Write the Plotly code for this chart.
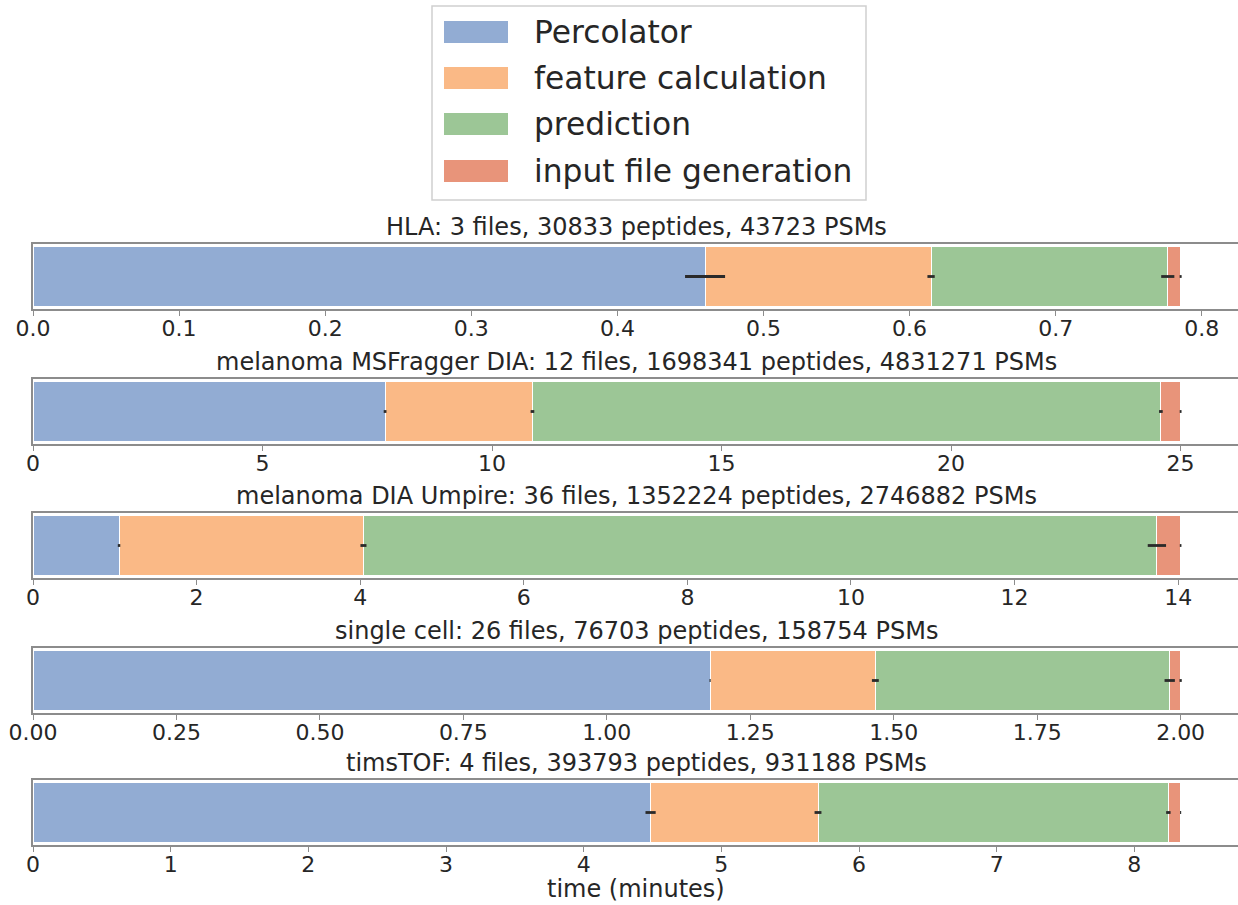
import itertools
import plotly.graph_objects as go

# ---------------- data ----------------
stages = ["Percolator", "feature calculation", "prediction", "input file generation"]
colors = ["#92acd3", "#fab986", "#9cc696", "#e8947a"]

panel_titles = [
    "HLA: 3 files, 30833 peptides, 43723 PSMs",
    "melanoma MSFragger DIA: 12 files, 1698341 peptides, 4831271 PSMs",
    "melanoma DIA Umpire: 36 files, 1352224 peptides, 2746882 PSMs",
    "single cell: 26 files, 76703 peptides, 158754 PSMs",
    "timsTOF: 4 files, 393793 peptides, 931188 PSMs",
]

# mean time (minutes) of each stage, per panel
hla_means = [0.460, 0.1547, 0.162, 0.0088]
hla_errs = [0.0137, 0.0025, 0.0045, 0.0007]
msf_means = [7.67, 3.21, 13.69, 0.43]
msf_errs = [0.03, 0.04, 0.04, 0.02]
umpire_means = [1.052, 2.988, 9.70, 0.29]
umpire_errs = [0.015, 0.037, 0.112, 0.01]
sc_means = [1.180, 0.288, 0.513, 0.019]
sc_errs = [0.001, 0.006, 0.009, 0.002]
tims_means = [4.486, 1.216, 2.545, 0.089]
tims_errs = [0.037, 0.025, 0.016, 0.004]

panel_means = [hla_means, msf_means, umpire_means, sc_means, tims_means]
panel_errs = [hla_errs, msf_errs, umpire_errs, sc_errs, tims_errs]
tick_steps = [0.1, 5, 2, 0.25, 1]
tick_formats = [".1f", "d", "d", ".2f", "d"]
x_label = "time (minutes)"

# ---------------- layout constants ----------------
W, H = 1238, 905
FONT = "DejaVu Sans"
TXT = "#262626"
SPINE = "#8c8c8c"
ML = 33
panel_top_px = [244, 379, 513, 648, 780]
panel_bot_px = [309, 444, 578, 713, 845]


def px_x(px):
    return (px - ML) / (W - ML)


def px_y(py):
    return 1 - py / H


fig = go.Figure()
layout = dict(
    width=W, height=H,
    margin=dict(l=ML, r=0, t=0, b=0, autoexpand=False),
    paper_bgcolor="white", plot_bgcolor="white",
    barmode="stack", bargap=0.2, showlegend=False,
    font=dict(family=FONT, color=TXT),
)
annotations = []
shapes = []
center_x = px_x((ML + 1239) / 2)

for i, (means, errs) in enumerate(zip(panel_means, panel_errs)):
    n = "" if i == 0 else str(i + 1)
    for s, m in enumerate(means):
        fig.add_trace(go.Bar(
            x=[m], y=[0], orientation="h", width=0.8,
            name=stages[s],
            marker=dict(color=colors[s], line=dict(color="white", width=1)),
            xaxis="x" + n, yaxis="y" + n, showlegend=False,
        ))
    # error bars drawn on top of all segments, at each segment's stacked end
    ends = list(itertools.accumulate(means))
    fig.add_trace(go.Scatter(
        x=ends, y=[0] * len(ends), mode="markers",
        marker=dict(size=1, opacity=0),
        error_x=dict(type="data", array=errs, symmetric=True, color="#2a2a2a",
                     thickness=2.8, width=0),
        xaxis="x" + n, yaxis="y" + n, showlegend=False, hoverinfo="skip",
    ))
    total = ends[-1]
    d_top = px_y(panel_top_px[i])
    d_bot = px_y(panel_bot_px[i])
    layout["xaxis" + n] = dict(
        domain=[0, 1], anchor="y" + n, range=[0, total * 1.05],
        dtick=tick_steps[i], tick0=0, tickformat=tick_formats[i],
        showline=True, linecolor=SPINE, linewidth=1.5, mirror=True,
        ticks="outside", ticklen=5, tickwidth=1.2, tickcolor=SPINE,
        ticklabelstandoff=-6,
        showgrid=False, zeroline=False, automargin=False,
        tickfont=dict(family=FONT, size=22, color=TXT),
    )
    layout["yaxis" + n] = dict(
        domain=[d_bot, d_top], anchor="x" + n, range=[-0.44, 0.44],
        showticklabels=False, ticks="", showgrid=False, zeroline=False,
        showline=True, linecolor=SPINE, linewidth=1.5, mirror=False,
        automargin=False,
    )
    annotations.append(dict(
        text=panel_titles[i], xref="paper", yref="paper",
        x=center_x, y=d_top, xanchor="center", yanchor="bottom",
        yshift=1, showarrow=False, font=dict(family=FONT, size=24, color=TXT),
    ))

# x-axis label
annotations.append(dict(
    text=x_label, xref="paper", yref="paper",
    x=center_x, y=px_y(889), xanchor="center", yanchor="middle",
    showarrow=False, font=dict(family=FONT, size=24, color=TXT),
))

# manual legend (box, swatches, labels)
shapes.append(dict(type="rect", xref="paper", yref="paper",
                   x0=px_x(432), x1=px_x(866), y0=px_y(200), y1=px_y(6),
                   line=dict(color="#d0d0d0", width=1.5), fillcolor="white", layer="above"))
row_y = [32, 78, 124, 171]
for s, name in enumerate(stages):
    shapes.append(dict(type="rect", xref="paper", yref="paper",
                       x0=px_x(444), x1=px_x(508),
                       y0=px_y(row_y[s] + 11), y1=px_y(row_y[s] - 11),
                       line=dict(width=0), fillcolor=colors[s], layer="above"))
    annotations.append(dict(
        text=name, xref="paper", yref="paper", x=px_x(532), y=px_y(row_y[s]),
        xanchor="left", yanchor="middle", showarrow=False,
        font=dict(family=FONT, size=31.3, color=TXT),
    ))

layout["annotations"] = annotations
layout["shapes"] = shapes
fig.update_layout(**layout)
fig.write_html(
    "out.html",
    config={"displayModeBar": False},
    post_script="document.body.style.margin='0';document.body.style.overflow='hidden';",
)
